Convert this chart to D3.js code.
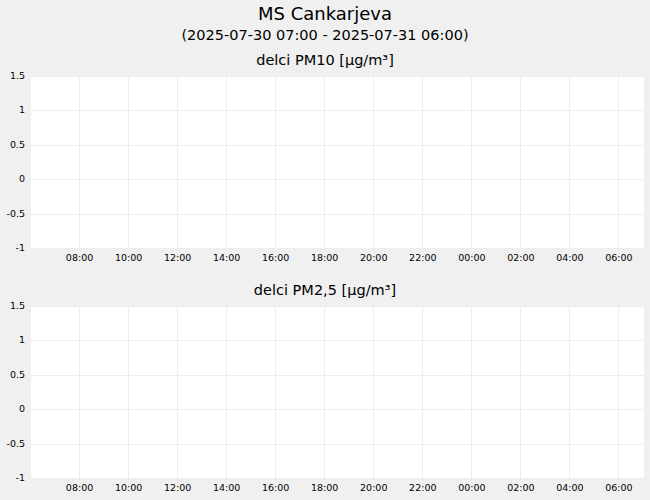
<!DOCTYPE html>
<html>
<head>
<meta charset="utf-8">
<script src="https://cdn.jsdelivr.net/npm/d3@7"></script>
<style>
  html, body { margin: 0; padding: 0; background: #f0f0f0; }
  svg { display: block; font-family: "DejaVu Sans", sans-serif; }
</style>
</head>
<body>
<svg id="chart" width="650" height="500"></svg>
<script>
const station = 'MS Cankarjeva';
const period = '(2025-07-30 07:00 - 2025-07-31 06:00)';
const panelTitles = ['delci PM10 [µg/m³]', 'delci PM2,5 [µg/m³]'];
const timeDomain = ['2025-07-30T06:00', '2025-07-31T07:00'];
const yTicks = [-1, -0.5, 0, 0.5, 1, 1.5];
// no measurements in this period
const pm10Values = [];
const pm25Values = [];
const series = [pm10Values, pm25Values];

const width = 650;
const margin = { left: 31, right: 6 };
const panelTop = [75.7, 305.7];
const panelHeight = 172.3;

const svg = d3.select('#chart');
const parse = d3.timeParse('%Y-%m-%dT%H:%M');

svg.append('text')
  .attr('x', width / 2).attr('y', 20)
  .attr('text-anchor', 'middle')
  .style('font-size', '18px')
  .text(station);

svg.append('text')
  .attr('x', width / 2).attr('y', 40)
  .attr('text-anchor', 'middle')
  .style('font-size', '14.5px')
  .text(period);

const x = d3.scaleTime()
  .domain(timeDomain.map(parse))
  .range([margin.left, width - margin.right]);

const xTicks = x.ticks(d3.timeHour.every(2)).filter(d => d > x.domain()[0]);

panelTitles.forEach((title, i) => {
  const top = panelTop[i];
  const y = d3.scaleLinear()
    .domain([d3.min(yTicks), d3.max(yTicks)])
    .range([top + panelHeight, top]);

  const g = svg.append('g').attr('class', 'panel');

  g.append('text')
    .attr('x', width / 2).attr('y', top - 11)
    .attr('text-anchor', 'middle')
    .style('font-size', '14.5px')
    .text(title);

  g.append('rect')
    .attr('x', margin.left).attr('y', top)
    .attr('width', width - margin.left - margin.right)
    .attr('height', panelHeight)
    .attr('fill', '#fff');

  // grid
  g.append('g')
    .selectAll('line.h')
    .data(yTicks)
    .join('line')
    .attr('x1', margin.left).attr('x2', width - margin.right)
    .attr('y1', d => Math.round(y(d)) + 0.5).attr('y2', d => Math.round(y(d)) + 0.5)
    .attr('stroke', '#ededed');

  g.append('g')
    .selectAll('line.v')
    .data(xTicks)
    .join('line')
    .attr('x1', d => Math.round(x(d)) - 0.5).attr('x2', d => Math.round(x(d)) - 0.5)
    .attr('y1', top).attr('y2', top + panelHeight)
    .attr('stroke', '#ededed');

  // y labels
  g.append('g')
    .selectAll('text')
    .data(yTicks)
    .join('text')
    .attr('x', 25).attr('y', d => y(d))
    .attr('dy', '0.35em')
    .attr('text-anchor', 'end')
    .style('font-size', '9.5px')
    .text(d => String(d));

  // x labels
  g.append('g')
    .selectAll('text')
    .data(xTicks)
    .join('text')
    .attr('x', d => x(d) - 0.5).attr('y', top + panelHeight + 9.5)
    .attr('dy', '0.35em')
    .attr('text-anchor', 'middle')
    .style('font-size', '9.5px')
    .text(d => d3.timeFormat('%H:%M')(d));

  // data line (empty for this period)
  g.append('path')
    .datum(series[i])
    .attr('fill', 'none')
    .attr('stroke', '#1f4e9c')
    .attr('stroke-width', 1.5)
    .attr('d', d3.line().x(d => x(parse(d[0]))).y(d => y(d[1])));
});
</script>
</body>
</html>
